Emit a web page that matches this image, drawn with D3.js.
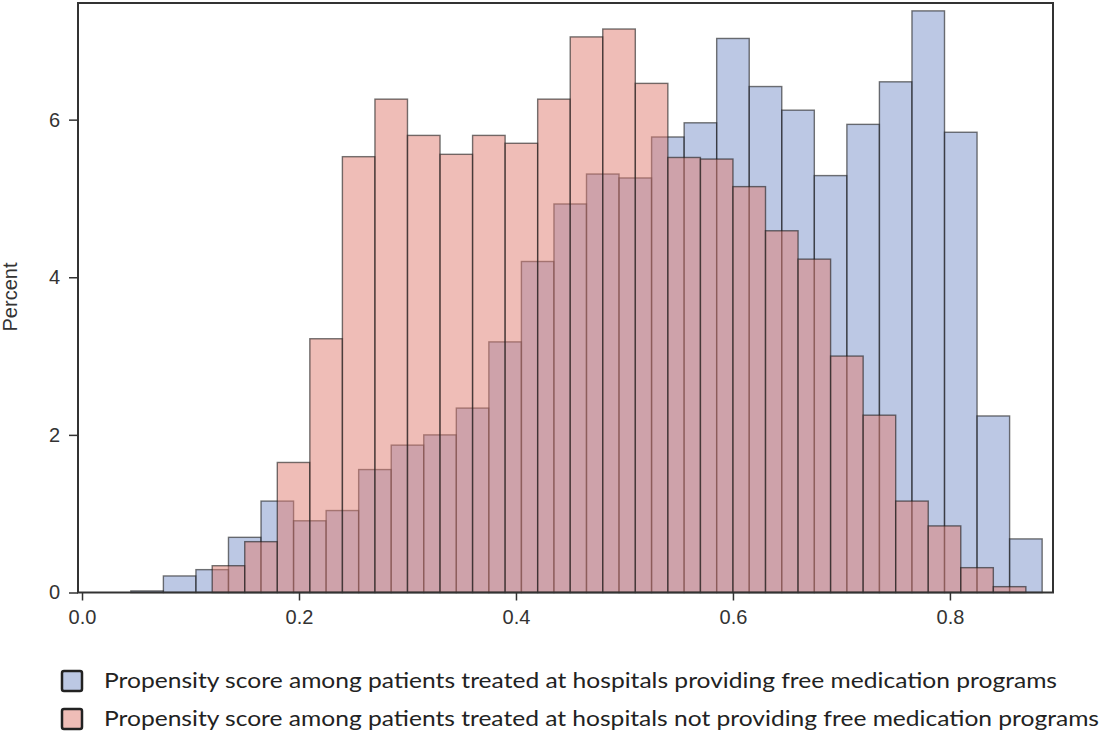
<!DOCTYPE html>
<html>
<head>
<meta charset="utf-8">
<script src="https://cdn.jsdelivr.net/npm/d3@7"></script>
<style>
  html, body { margin: 0; padding: 0; background: #fff; }
  svg { display: block; }
</style>
</head>
<body>
<svg id="chart" width="1100" height="732"></svg>
<script>
// ---- data ----
const binWidth = 0.03;
// left edges of bins
const blueStarts = [0.045,0.075,0.105,0.135,0.165,0.195,0.225,0.255,0.285,0.315,0.345,0.375,0.405,0.435,0.465,0.495,0.525,0.555,0.585,0.615,0.645,0.675,0.705,0.735,0.765,0.795,0.825,0.855];
const blueValues = [0.02,0.21,0.29,0.70,1.16,0.91,1.04,1.56,1.87,2.00,2.34,3.18,4.20,4.93,5.31,5.26,5.78,5.96,7.03,6.42,6.12,5.29,5.94,6.48,7.38,5.84,2.24,0.68];
const pinkStarts = [0.12,0.15,0.18,0.21,0.24,0.27,0.30,0.33,0.36,0.39,0.42,0.45,0.48,0.51,0.54,0.57,0.60,0.63,0.66,0.69,0.72,0.75,0.78,0.81,0.84];
const pinkValues = [0.34,0.645,1.65,3.22,5.53,6.26,5.80,5.56,5.80,5.70,6.26,7.05,7.15,6.46,5.52,5.50,5.15,4.59,4.23,3.00,2.25,1.16,0.845,0.315,0.074];
const xTicks = [0.0,0.2,0.4,0.6,0.8];
const yTicks = [0,2,4,6];
const yLabel = "Percent";
const legendLabels = [
  "Propensity score among patients treated at hospitals providing free medication programs",
  "Propensity score among patients treated at hospitals not providing free medication programs"
];
const seriesColors = ["#7991C9", "#DF7B6F"];

// ---- layout ----
const svg = d3.select("#chart");
const pLeft = 78, pRight = 1053, pTop = 3, pBottom = 592.5;
const x = d3.scaleLinear().domain([-0.0037, 0.895]).range([pLeft, pRight]);
const y = d3.scaleLinear().domain([0, 7.48]).range([pBottom, pTop]);

const series = [
  {starts: blueStarts, values: blueValues, color: seriesColors[0]},
  {starts: pinkStarts, values: pinkValues, color: seriesColors[1]}
];

series.forEach(s => {
  svg.append("g").selectAll("rect")
    .data(s.starts.map((st, i) => ({x0: st, x1: st + binWidth, v: s.values[i]})))
    .join("rect")
    .attr("x", d => x(d.x0))
    .attr("width", d => x(d.x1) - x(d.x0))
    .attr("y", d => y(d.v))
    .attr("height", d => y(0) - y(d.v))
    .attr("fill", s.color)
    .attr("fill-opacity", 0.5)
    .attr("stroke", "#1a1a1a")
    .attr("stroke-opacity", 0.6)
    .attr("stroke-width", 1.4);
});

// frame
svg.append("rect")
  .attr("x", pLeft).attr("y", pTop)
  .attr("width", pRight - pLeft).attr("height", pBottom - pTop)
  .attr("fill", "none").attr("stroke", "#333").attr("stroke-width", 2);

// axes
const xAxis = d3.axisBottom(x).tickValues(xTicks).tickFormat(d3.format(".1f")).tickSize(8).tickSizeOuter(0).tickPadding(9);
const gx = svg.append("g").attr("transform", `translate(0,${pBottom})`).call(xAxis);
gx.select(".domain").remove();
gx.selectAll("line").attr("stroke", "#333").attr("stroke-width", 1.5);
gx.selectAll("text").attr("font-family", "Liberation Sans, Arial, sans-serif").attr("font-size", 20).attr("fill", "#333");

const yAxis = d3.axisLeft(y).tickValues(yTicks).tickFormat(d3.format("d")).tickSize(9).tickSizeOuter(0).tickPadding(9);
const gy = svg.append("g").attr("transform", `translate(${pLeft},0)`).call(yAxis);
gy.select(".domain").remove();
gy.selectAll("line").attr("stroke", "#333").attr("stroke-width", 1.5);
gy.selectAll("text").attr("font-family", "Liberation Sans, Arial, sans-serif").attr("font-size", 20).attr("fill", "#333");

svg.append("text")
  .attr("transform", `translate(17,297) rotate(-90)`)
  .attr("text-anchor", "middle")
  .attr("font-family", "Liberation Sans, Arial, sans-serif")
  .attr("font-size", 20)
  .attr("fill", "#333")
  .text(yLabel);

// legend
const leg = svg.append("g");
legendLabels.forEach((lab, i) => {
  const yy = 671 + i * 38;
  leg.append("rect")
    .attr("x", 62).attr("y", yy).attr("width", 20).attr("height", 20)
    .attr("rx", 2)
    .attr("fill", seriesColors[i]).attr("fill-opacity", 0.5)
    .attr("stroke", "#222").attr("stroke-width", 2.5);
  leg.append("text")
    .attr("x", 104).attr("y", yy + 17)
    .attr("font-family", "Lato, 'Open Sans', sans-serif")
    .attr("font-size", 22)
    .attr("fill", "#222")
    .attr("textLength", i === 0 ? 953 : 995)
    .attr("lengthAdjust", "spacingAndGlyphs")
    .text(lab);
});
</script>
</body>
</html>
